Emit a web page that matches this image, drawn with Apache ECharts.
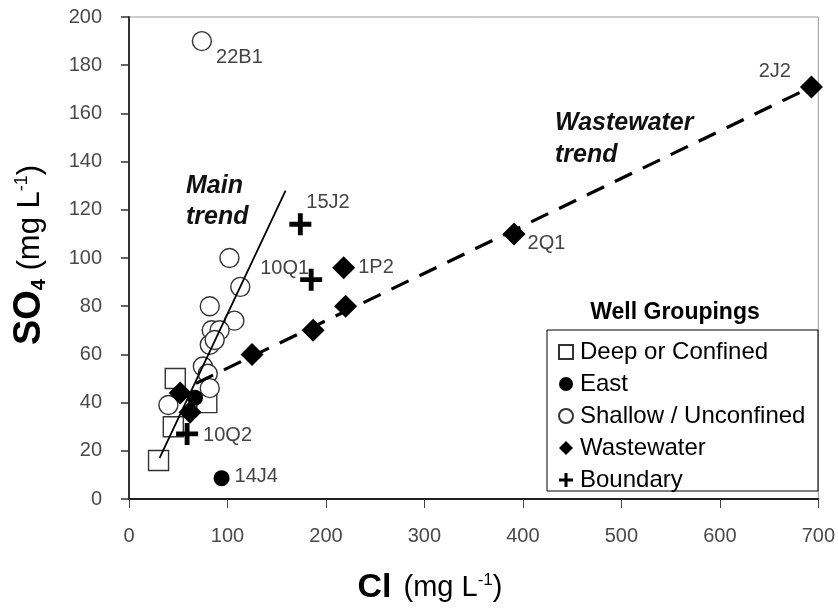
<!DOCTYPE html>
<html>
<head>
<meta charset="utf-8">
<script src="https://cdn.jsdelivr.net/npm/echarts@6/dist/echarts.min.js"></script>
<style>html,body{margin:0;padding:0;background:#fff}#c{width:838px;height:611px}</style>
</head>
<body>
<div id="c"></div>
<script>
// ---- data (Cl, SO4 in mg/L) ----
const deepConfined = [[30,16],[45,30],[47,50],[79,40]];
const deepNames = ['','','',''];
const east = [[67,42],[94,8.6]];
const eastNames = ['','14J4'];
const shallow = [[74,190],[102,100],[113,88],[82,80],[107,74],[84,70],[92,70],[82,64],[87,66],[75,55],[80,52],[82,46],[40,39]];
const shallowNames = ['22B1','','','','','','','','','','','',''];
const wastewater = [[52,44],[62,36],[125,60],[187,70],[220,80],[218,96],[391,110],[693,171]];
const wastewaterNames = ['','','','','','1P2','2Q1','2J2'];
const boundary = [[59,27],[174,114],[185,91]];
const boundaryNames = ['10Q2','15J2','10Q1'];
const mainTrend = [[31,17],[159,128]];
const wastewaterTrend = [[68,48],[693,171]];
const xTicks = [0,100,200,300,400,500,600,700];
const yTicks = [0,20,40,60,80,100,120,140,160,180,200];
const seriesNames = ['Deep or Confined','East','Shallow / Unconfined','Wastewater','Boundary'];

// ---- label placement (style, not data) ----
const labelPlace = {
  '22B1': {position:'right', offset:[4,16]},
  '15J2': {position:'right', offset:[-5,-22]},
  '10Q1': {position:'left', offset:[9,-11]},
  '1P2':  {position:'right', offset:[3,0]},
  '2Q1':  {position:'right', offset:[2,10]},
  '2J2':  {position:'left', offset:[-9,-15]},
  '10Q2': {position:'right', offset:[5,2]},
  '14J4': {position:'right', offset:[5,-2]}
};
const FONT = '"Liberation Sans", Arial, sans-serif';
function build(pts, names){
  return pts.map((p,i)=>{
    const d = {value:p, name:names[i]||''};
    if (names[i]) {
      const lp = labelPlace[names[i]];
      d.label = {show:true, formatter:'{b}', position:lp.position, offset:lp.offset, distance:0,
        fontSize:20, color:'#444', fontFamily:FONT};
    }
    return d;
  });
}
const plusPath = 'path://M3.9,0H6.1V3.9H10V6.1H6.1V10H3.9V6.1H0V3.9H3.9Z';

const chart = echarts.init(document.getElementById('c'), null, {renderer:'canvas'});
const option = {
  animation:false,
  backgroundColor:'#fff',
  textStyle:{fontFamily:FONT},
  grid:{left:129, right:17, top:17, bottom:112, show:true, borderColor:'#999', borderWidth:1},
  xAxis:{type:'value', min:xTicks[0], max:xTicks[xTicks.length-1], interval:100,
    axisLine:{show:true, onZero:false, lineStyle:{color:'#222', width:2}},
    axisTick:{show:true, length:9, lineStyle:{color:'#444', width:1}},
    axisLabel:{fontSize:20, color:'#4a4a4a', margin:27, fontFamily:FONT},
    splitLine:{show:false}},
  yAxis:{type:'value', min:yTicks[0], max:yTicks[yTicks.length-1], interval:20,
    axisLine:{show:true, onZero:false, lineStyle:{color:'#333', width:2}},
    axisTick:{show:true, length:8, lineStyle:{color:'#333', width:1.5}},
    axisLabel:{fontSize:20, color:'#4a4a4a', margin:27, fontFamily:FONT},
    splitLine:{show:false}},
  legend:{orient:'vertical', left:553, top:331, itemWidth:14, itemHeight:14, itemGap:0,
    selectedMode:false, data:seriesNames,
    textStyle:{fontSize:24, color:'#000', lineHeight:32, fontFamily:FONT, padding:[0,0,0,2]}},
  series:[
    {name:seriesNames[0], type:'scatter', symbol:'rect', symbolSize:20,
      itemStyle:{color:'#fff', borderColor:'#333', borderWidth:1.4, opacity:1}, data:build(deepConfined, deepNames), z:2},
    {name:seriesNames[1], type:'scatter', symbol:'circle', symbolSize:16,
      itemStyle:{color:'#000', borderColor:'#000', borderWidth:0, opacity:1}, data:build(east, eastNames), z:3},
    {name:seriesNames[2], type:'scatter', symbol:'circle', symbolSize:19,
      itemStyle:{color:'#fff', borderColor:'#333', borderWidth:1.4, opacity:1}, data:build(shallow, shallowNames), z:2},
    {name:seriesNames[3], type:'scatter', symbol:'diamond', symbolSize:[23,23],
      itemStyle:{color:'#000', opacity:1}, data:build(wastewater, wastewaterNames), z:4},
    {name:seriesNames[4], type:'scatter', symbol:plusPath, symbolSize:22,
      itemStyle:{color:'#000', opacity:1}, data:build(boundary, boundaryNames), z:4},
    {type:'line', data:mainTrend, symbol:'none', lineStyle:{color:'#000', width:1.8}, z:5, silent:true},
    {type:'line', data:wastewaterTrend, symbol:'none', lineStyle:{color:'#000', width:3.2, type:[19,12]}, z:3, silent:true}
  ],
  graphic:[
    {type:'rect', shape:{x:547, y:330, width:271, height:161}, style:{fill:'none', stroke:'#000', lineWidth:1}, z:10},
    {type:'text', x:675, y:313, style:{text:'Well Groupings', font:'bold 23px '+FONT, fill:'#000', textAlign:'center', textVerticalAlign:'middle'}, z:10},
    {type:'text', x:186, y:202, style:{text:'Main\ntrend', font:'italic bold 25px '+FONT, fill:'#111', lineHeight:31, textAlign:'left', textVerticalAlign:'middle'}, z:10},
    {type:'text', x:555, y:139, style:{text:'Wastewater\ntrend', font:'italic bold 25px '+FONT, fill:'#111', lineHeight:32, textAlign:'left', textVerticalAlign:'middle'}, z:10},
    {type:'text', x:430, y:588, style:{
      text:'{b|Cl}{g|}{n|(mg L}{sup|-1}{n|)}', textAlign:'center', textVerticalAlign:'middle',
      rich:{b:{fontSize:34, fontWeight:'bold', fontFamily:FONT, fill:'#000'},
            g:{width:12},
            n:{fontSize:29, fontFamily:FONT, fill:'#000'},
            sup:{fontSize:17, fontFamily:FONT, fill:'#000', padding:[0,0,15,0]}}}, z:10},
    {type:'text', x:30, y:255, rotation:Math.PI/2, style:{
      text:'{b|SO}{s|4}{n| (mg L}{sup|-1}{n|)}', textAlign:'center', textVerticalAlign:'middle',
      rich:{b:{fontSize:38, fontWeight:'bold', fontFamily:FONT, fill:'#000'},
            s:{fontSize:20, fontWeight:'bold', fontFamily:FONT, fill:'#000', padding:[18,0,0,0]},
            n:{fontSize:31, fontFamily:FONT, fill:'#000'},
            sup:{fontSize:18, fontFamily:FONT, fill:'#000', padding:[0,0,16,0]}}}, z:10}
  ]
};
chart.setOption(option);
</script>
</body>
</html>
